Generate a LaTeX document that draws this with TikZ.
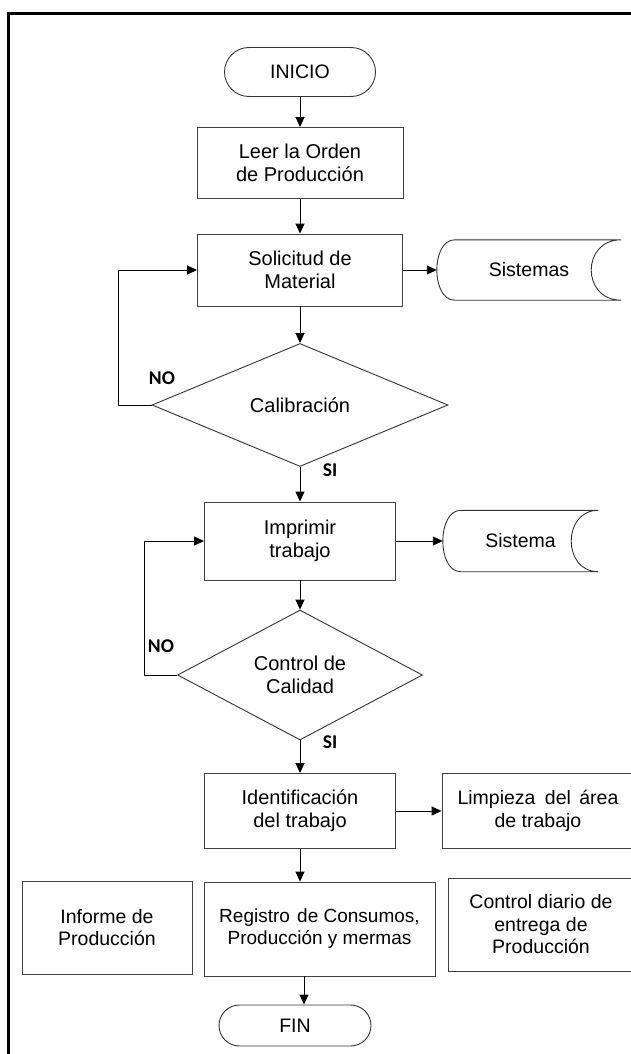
\documentclass[tikz,border=0pt]{standalone}
\usepackage{fontspec}
\setmainfont{Liberation Sans}
\newfontfamily\answerfont{Carlito}
\usetikzlibrary{arrows.meta,shapes.geometric,shapes.misc,calc}

\begin{document}
\begin{tikzpicture}[x=1pt,y=-1pt,
  every node/.style={font=\fontsize{19.5}{22.5}\selectfont, align=center, inner sep=0pt},
  big/.style={font=\fontsize{20}{23}\selectfont},
  proc/.style={draw=black!75, line width=0.9pt, rectangle},
  term/.style={draw=black!80, line width=0.9pt, rounded rectangle},
  decision/.style={draw=black!80, line width=0.9pt, diamond},
  outline/.style={draw=black!80, line width=0.9pt},
  flow/.style={draw=black, line width=0.9pt, -{Triangle[length=10pt,width=9pt]}},
  answer/.style={font=\answerfont\bfseries\fontsize{19.5}{21}\selectfont},
]
\useasboundingbox (0,0) rectangle (631,1054);

% page frame
\draw[line width=2.7pt] (8.7,1060) -- (8.7,13.3) -- (640,13.3);

% main column
\node[term, minimum width=151, minimum height=49] (start) at (300,72) {INICIO};
\node[proc, big, minimum width=206, minimum height=71] (read) at (300,163) {Leer la Orden\\de Producción};
\node[proc, big, minimum width=205, minimum height=72] (req) at (300,270) {Solicitud de\\Material};
\node[decision, big, minimum width=296, minimum height=123] (cal) at (300,405) {Calibración};
\node[proc, big, minimum width=191, minimum height=78] (print) at (300,541) {Imprimir\\trabajo};
\node[decision, big, minimum width=245, minimum height=128] (qc) at (300,675) {Control de\\Calidad};
\node[proc, big, minimum width=191, minimum height=75] (ident) at (300,811) {Identificación\\del trabajo};
\node[proc, minimum width=192, minimum height=75] (clean) at (538,811) {Limpieza\hspace{4pt} del\hspace{3pt} área\\de trabajo};
\node[proc, minimum width=170, minimum height=93] (report) at (107,927.5) {Informe de\\Producción};
\node[proc, font=\fontsize{19}{22}\selectfont, minimum width=231, minimum height=94] (reg) at (319.5,929) {Registro\hspace{2pt} de Consumos,\\Producción y mermas};
\node[proc, minimum width=186, minimum height=93] (daily) at (541,924.5) {Control diario de\\entrega de\\Producción};
\node[term, minimum width=152, minimum height=41] (fin) at (295,1025.5) {FIN};

% stored-data symbols
\node[minimum width=184, minimum height=60] (sys1) at (529,270) {Sistemas};
\draw[outline] ($(sys1.north west)+(18,0)$) -- (sys1.north east)
  .. controls ($(sys1.north east)+(-40,0)$) and ($(sys1.south east)+(-40,0)$) .. (sys1.south east)
  -- ($(sys1.south west)+(18,0)$)
  .. controls ($(sys1.south west)+(-6,0)$) and ($(sys1.north west)+(-6,0)$) .. ($(sys1.north west)+(18,0)$) -- cycle;
\node[minimum width=155, minimum height=61] (sys2) at (520.5,541) {Sistema};
\draw[outline] ($(sys2.north west)+(18,0)$) -- (sys2.north east)
  .. controls ($(sys2.north east)+(-36,0)$) and ($(sys2.south east)+(-36,0)$) .. (sys2.south east)
  -- ($(sys2.south west)+(18,0)$)
  .. controls ($(sys2.south west)+(-6,0)$) and ($(sys2.north west)+(-6,0)$) .. ($(sys2.north west)+(18,0)$) -- cycle;

% decision answers
\node[answer] (no1) at (162,378.5) {NO};
\node[answer] (si1) at (330,470.5) {SI};
\node[answer] (no2) at (161,646) {NO};
\node[answer] (si2) at (330,742) {SI};

% connectors
\draw[flow] (start.south) -- (read.north);
\draw[flow] (read.south) -- (req.north);
\draw[flow] (req.east) -- (sys1.west);
\draw[flow] (req.south) -- (cal.north);
\draw[flow] (cal.west) -- ++(-33,0) |- (req.west);
\draw[flow] (cal.south) -- (print.north);
\draw[flow] (print.east) -- (sys2.west);
\draw[flow] (print.south) -- (qc.north);
\draw[flow] (qc.west) -- ++(-33,0) |- (print.west);
\draw[flow] (qc.south) -- (ident.north);
\draw[flow] (ident.east) -- (clean.west);
\draw[flow] (ident.south) -- (ident.south |- reg.north);
\draw[flow] ([xshift=9pt]fin.north |- reg.south) -- ([xshift=9pt]fin.north);
\end{tikzpicture}
\end{document}
